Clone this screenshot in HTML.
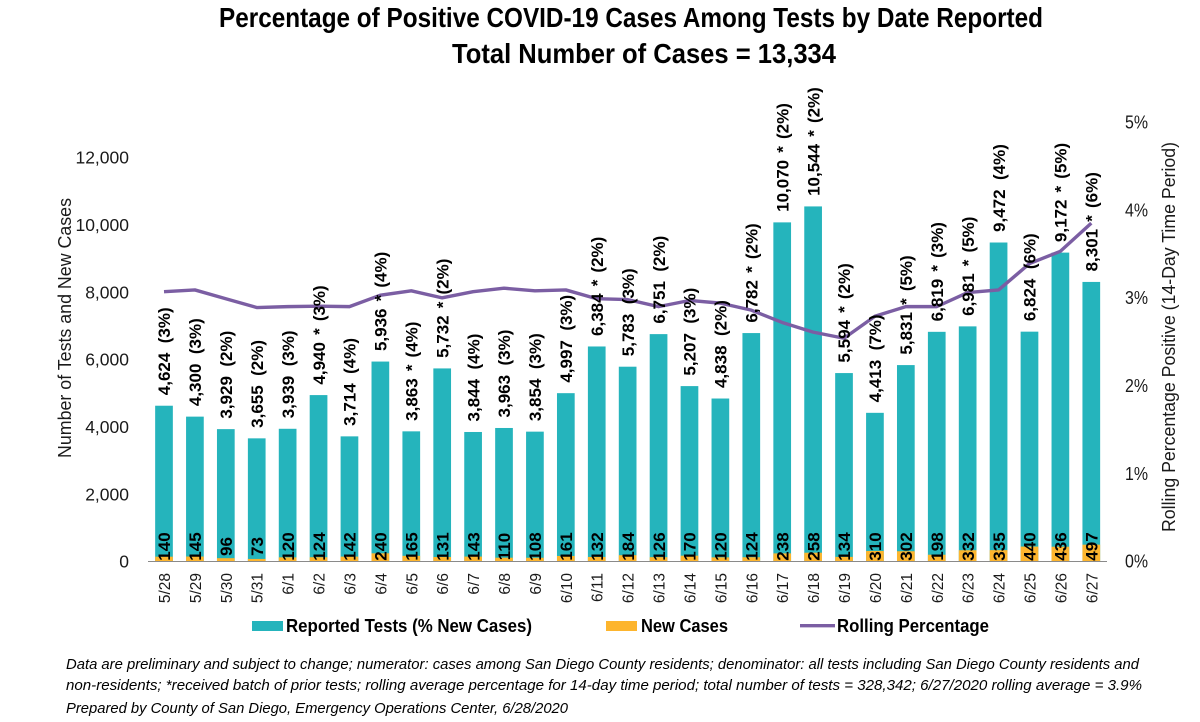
<!DOCTYPE html>
<html lang="en">
<head>
<meta charset="utf-8">
<title>Percentage of Positive COVID-19 Cases Among Tests by Date Reported</title>
<style>
html,body{margin:0;padding:0;background:#fff;width:1200px;height:722px;overflow:hidden}
svg{display:block;font-family:"Liberation Sans",sans-serif}
text{white-space:pre}
</style>
</head>
<body>
<svg id="chart" width="1200" height="722" viewBox="0 0 1200 722" xmlns="http://www.w3.org/2000/svg">
  <rect width="1200" height="722" fill="#ffffff"/>
  <text x="631" y="27" text-anchor="middle" font-size="28" font-weight="700" fill="#000" textLength="824" lengthAdjust="spacingAndGlyphs">Percentage of Positive COVID-19 Cases Among Tests by Date Reported</text>
  <text x="644" y="63" text-anchor="middle" font-size="28" font-weight="700" fill="#000" textLength="384" lengthAdjust="spacingAndGlyphs">Total Number of Cases = 13,334</text>

  <text transform="translate(71,458) rotate(-90)" font-size="18" fill="#1a1a1a" textLength="260" lengthAdjust="spacingAndGlyphs">Number of Tests and New Cases</text>
  <text transform="translate(1175,532) rotate(-90)" font-size="18" fill="#1a1a1a" textLength="390" lengthAdjust="spacingAndGlyphs">Rolling Percentage Positive (14-Day Time Period)</text>

  <g id="left-ticks"></g>
  <g id="right-ticks"></g>
  <g id="test-bars"></g>
  <g id="case-bars"></g>
  <line x1="148" y1="561.5" x2="1107" y2="561.5" stroke="#8a8a8a" stroke-width="1"/>
  <g id="x-ticks"></g>
  <polyline id="rolling-line" fill="none" stroke="#7b5ea3" stroke-width="3.4" stroke-linejoin="round"/>
  <g id="test-labels"></g>
  <g id="case-labels"></g>

  <g>
    <g>
      <rect x="252" y="621" width="31" height="10" fill="#25b4bc"/>
      <text x="286" y="632" font-size="18.5" font-weight="700" fill="#000" textLength="246" lengthAdjust="spacingAndGlyphs">Reported Tests (% New Cases)</text>
    </g>
    <g>
      <rect x="606" y="621" width="31" height="10" fill="#fdb52e"/>
      <text x="641" y="632" font-size="18.5" font-weight="700" fill="#000" textLength="87" lengthAdjust="spacingAndGlyphs">New Cases</text>
    </g>
    <g>
      <line x1="800" y1="625.7" x2="835" y2="625.7" stroke="#7b5ea3" stroke-width="3.4"/>
      <text x="837" y="632" font-size="18.5" font-weight="700" fill="#000" textLength="152" lengthAdjust="spacingAndGlyphs">Rolling Percentage</text>
    </g>
  </g>

  <g font-size="15" font-style="italic" fill="#000">
    <text x="66" y="669" textLength="1073" lengthAdjust="spacingAndGlyphs">Data are preliminary and subject to change; numerator: cases among San Diego County residents; denominator: all tests including San Diego County residents and</text>
    <text x="66" y="690" textLength="1076" lengthAdjust="spacingAndGlyphs">non-residents; *received batch of prior tests; rolling average percentage for 14-day time period; total number of tests = 328,342; 6/27/2020 rolling average = 3.9%</text>
    <text x="66" y="713" textLength="502" lengthAdjust="spacingAndGlyphs">Prepared by County of San Diego, Emergency Operations Center, 6/28/2020</text>
  </g>
</svg>
<script>
const dates = ['5/28','5/29','5/30','5/31','6/1','6/2','6/3','6/4','6/5','6/6','6/7','6/8','6/9','6/10','6/11','6/12','6/13','6/14','6/15','6/16','6/17','6/18','6/19','6/20','6/21','6/22','6/23','6/24','6/25','6/26','6/27'];
const reportedTests = [4624,4300,3929,3655,3939,4940,3714,5936,3863,5732,3844,3963,3854,4997,6384,5783,6751,5207,4838,6782,10070,10544,5594,4413,5831,6819,6981,9472,6824,9172,8301];
const newCases = [140,145,96,73,120,124,142,240,165,131,143,110,108,161,132,184,126,170,120,124,238,258,134,310,302,198,332,335,440,436,497];
const percentNew = [3,3,2,2,3,3,4,4,4,2,4,3,3,3,2,3,2,3,2,2,2,2,2,7,5,3,5,4,6,5,6];
const priorBatch = [0,0,0,0,0,1,0,1,1,1,0,0,0,0,1,0,0,0,0,1,1,1,1,0,1,1,1,0,0,1,1];
const rollingPercent = [3.07,3.09,2.99,2.89,2.90,2.905,2.90,3.03,3.08,3.00,3.07,3.11,3.08,3.09,2.99,2.98,2.90,2.97,2.94,2.86,2.72,2.61,2.54,2.79,2.90,2.90,3.06,3.09,3.39,3.53,3.85];
const leftTicks = [0,2000,4000,6000,8000,10000,12000];
const rightTicks = [0,1,2,3,4,5];

const NS = 'http://www.w3.org/2000/svg';
const plotLeft = 164, plotStep = 30.91, barWidth = 17.7, baseY = 561.4;
const leftScale = 404 / 12000, rightScale = 87.85;
const xAt = function (i) { return plotLeft + i * plotStep; };
const yLeft = function (v) { return baseY - v * leftScale; };
const yRight = function (v) { return baseY - v * rightScale; };
const fmt = function (n) { return n.toLocaleString('en-US'); };

function make(tag, parentId, attrs, content) {
  const el = document.createElementNS(NS, tag);
  for (const k in attrs) el.setAttribute(k, attrs[k]);
  if (content !== undefined) el.textContent = content;
  document.getElementById(parentId).appendChild(el);
  return el;
}

leftTicks.forEach(function (t) {
  const el = make('text', 'left-ticks', {x: 129, y: yLeft(t) + 6.3, 'text-anchor': 'end', 'font-size': 17.5, fill: '#1a1a1a'}, fmt(t));
  
  
});

rightTicks.forEach(function (t) {
  const el = make('text', 'right-ticks', {x: 1125, y: yRight(t) + 6.3, 'font-size': 18, fill: '#1a1a1a', textLength: 23, lengthAdjust: 'spacingAndGlyphs'}, t + '%');
  
  
});

dates.forEach(function (d, i) {
  const x = xAt(i);

  const bar = make('rect', 'test-bars', {x: x - barWidth / 2, y: yLeft(reportedTests[i]), width: barWidth, height: baseY - yLeft(reportedTests[i]), fill: '#25b4bc'});
  
  

  const cbar = make('rect', 'case-bars', {x: x - barWidth / 2, y: yLeft(newCases[i]), width: barWidth, height: baseY - yLeft(newCases[i]), fill: '#fdb52e'});
  
  

  const tick = make('text', 'x-ticks', {transform: 'translate(' + (x + 6) + ',573) rotate(-90)', 'text-anchor': 'end', 'font-size': 15.5, fill: '#1a1a1a'}, d);
  
  

  const label = fmt(reportedTests[i]) + (priorBatch[i] ? ' * ' : '  ') + '(' + percentNew[i] + '%)';
  const tl = make('text', 'test-labels', {transform: 'translate(' + (x + 6.2) + ',' + (yLeft(reportedTests[i]) - 10.5) + ') rotate(-90)', 'font-size': 17, 'font-weight': 700, 'word-spacing': priorBatch[i] ? 2.4 : 0, fill: '#000'}, label);
  
  

  const cl = make('text', 'case-labels', {transform: 'translate(' + (x + 6.2) + ',546.5) rotate(-90)', 'text-anchor': 'middle', 'font-size': 17, 'font-weight': 700, fill: '#000'}, String(newCases[i]));
  
  
});

document.getElementById('rolling-line').setAttribute('points', rollingPercent.map(function (v, i) {
  return xAt(i) + ',' + yRight(v);
}).join(' '));
</script>
</body>
</html>
